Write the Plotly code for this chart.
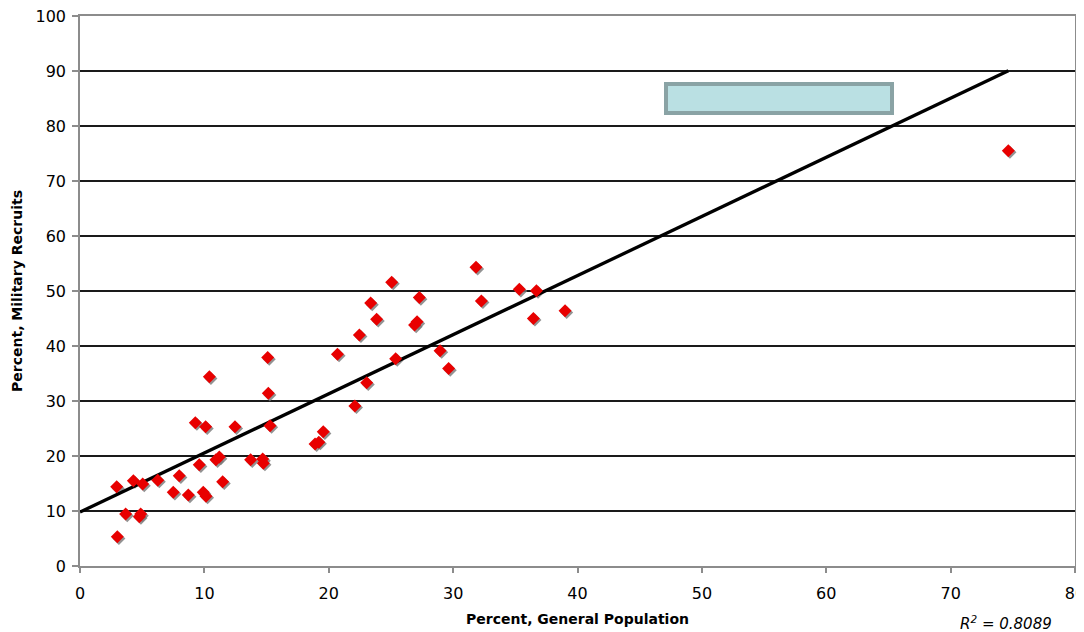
import plotly.graph_objects as go

# Percent of general population (x) vs percent of military recruits (y)
general_pop = [2.95, 3.0, 3.67, 4.29, 4.77, 4.88, 5.04, 6.25, 7.5, 7.98, 8.71, 9.27, 9.59,
               9.91, 10.13, 10.1, 10.4, 10.93, 11.2, 11.47, 12.46, 13.72, 14.69, 14.74,
               15.09, 15.14, 15.28, 18.9, 19.2, 19.56, 22.1, 20.7, 23.05, 22.46, 23.37,
               23.85, 25.06, 25.38, 26.9, 27.1, 27.28, 28.95, 29.64, 31.84, 32.27, 35.32,
               36.7, 36.45, 39.0, 74.64]
military = [14.4, 5.3, 9.45, 15.5, 8.96, 9.45, 14.9, 15.6, 13.4, 16.4, 12.9, 26.05, 18.4,
            13.4, 12.7, 25.3, 34.4, 19.3, 19.8, 15.3, 25.3, 19.3, 19.45, 18.7,
            37.9, 31.4, 25.5, 22.2, 22.5, 24.4, 29.1, 38.5, 33.3, 42.0, 47.8,
            44.85, 51.6, 37.7, 43.8, 44.4, 48.8, 39.15, 35.9, 54.3, 48.2, 50.3,
            50.05, 45.0, 46.4, 75.5]

trend_intercept = 9.8
trend_slope = 1.075
r_squared = 0.8089

x_ticks = [0, 10, 20, 30, 40, 50, 60, 70, 80]
y_ticks = [0, 10, 20, 30, 40, 50, 60, 70, 80, 90, 100]

FONT = "DejaVu Sans"

fig = go.Figure()

# marker shadow
sx = 1.6 / 12.44
sy = 1.6 / 5.5
fig.add_trace(go.Scatter(
    x=[v + sx for v in general_pop], y=[v - sy for v in military], mode="markers",
    marker=dict(symbol="diamond", size=10, color="rgba(120,120,120,0.8)", line=dict(width=0)),
    hoverinfo="skip", showlegend=False, cliponaxis=False))

x_end = max(general_pop)
fig.add_trace(go.Scatter(
    x=[0, x_end], y=[trend_intercept, trend_intercept + trend_slope * x_end],
    mode="lines", line=dict(color="black", width=3.3), showlegend=False))

fig.add_trace(go.Scatter(
    x=general_pop, y=military, mode="markers",
    marker=dict(symbol="diamond", size=10, color="#e80000", line=dict(width=0)),
    showlegend=False, cliponaxis=False))

fig.update_layout(
    width=1076, height=624,
    margin=dict(l=72, r=9, t=8, b=66),
    paper_bgcolor="white", plot_bgcolor="white",
    font=dict(family=FONT, size=16, color="black"),
    xaxis=dict(range=[0, 80], tickvals=x_ticks, showgrid=False, zeroline=False,
               automargin=False, ticklabelstandoff=7, ticklabeloverflow="allow",
               showline=True, linecolor="#8c8c8c", linewidth=1.5, mirror=True,
               ticks="outside", ticklen=5, tickcolor="#8c8c8c", tickwidth=1.5,
               title=dict(text="<b>Percent, General Population</b>",
                          font=dict(size=14, family=FONT), standoff=12)),
    yaxis=dict(range=[0, 100], tickvals=y_ticks, showgrid=True, gridcolor="#1a1a1a",
               gridwidth=1.5, zeroline=False, automargin=False, ticklabelstandoff=3,
               ticklabeloverflow="allow",
               showline=True, linecolor="#8c8c8c", linewidth=1.5, mirror=True,
               ticks="outside", ticklen=6, tickcolor="#8c8c8c", tickwidth=1.5,
               title=dict(text="<b>Percent, Military Recruits</b>",
                          font=dict(size=14, family=FONT), standoff=10)),
    shapes=[dict(type="rect", xref="paper", yref="paper",
                 x0=(666 - 80) / 995, x1=(892 - 80) / 995,
                 y0=(566 - 113) / 550, y1=(566 - 84) / 550,
                 fillcolor="#bae0e3", line=dict(color="#8aa3a5", width=4))],
    annotations=[dict(text=f"<i>R<sup>2</sup> = {r_squared:.4f}</i>", xref="paper", yref="paper",
                      x=(1054 - 80) / 995, y=(566 - 623) / 550, xanchor="right", yanchor="middle",
                      showarrow=False, font=dict(size=15, family=FONT))],
)

fig.write_html("out.html")
